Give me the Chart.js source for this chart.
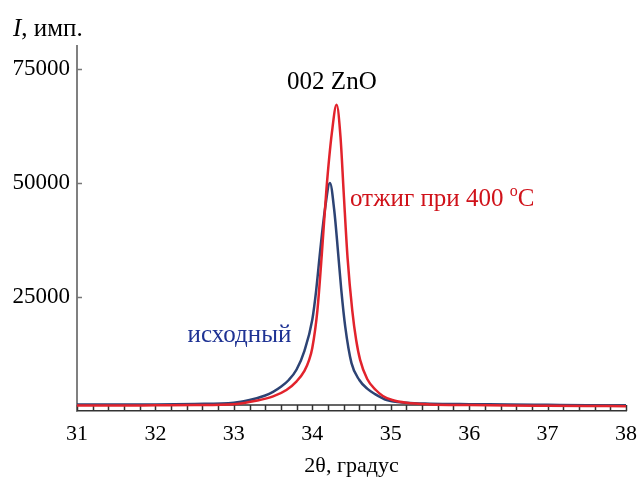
<!DOCTYPE html>
<html>
<head>
<meta charset="utf-8">
<script src="https://cdn.jsdelivr.net/npm/chart.js@4"></script>
<style>
	html, body { margin: 0; padding: 0; background: #fff; }
	#wrap { width: 639px; height: 479px; position: relative; }
</style>
</head>
<body>
<div id="wrap"><canvas id="xrd"></canvas></div>
<script>
// 2theta positions and intensities
var blueAngles = [31, 31.5, 32, 32.5, 33, 33.2, 33.4, 33.5, 33.6, 33.7, 33.8, 33.9, 34.0, 34.05, 34.1, 34.16, 34.225, 34.28, 34.33, 34.37, 34.42, 34.5, 34.6, 34.7, 34.8, 34.95, 35.2, 35.5, 36, 36.5, 37, 37.5, 38];
var blueCounts = [1400, 1400, 1450, 1550, 1800, 2400, 3400, 4200, 5300, 6800, 9100, 13200, 20000, 26500, 35000, 44000, 50000, 44000, 34500, 26500, 18500, 10500, 6800, 4900, 3700, 2400, 1800, 1600, 1500, 1450, 1350, 1250, 1200];

var redAngles = [31, 31.5, 32, 32.5, 33, 33.3, 33.5, 33.67, 33.8, 33.9, 33.96, 34.0, 34.065, 34.12, 34.18, 34.25, 34.31, 34.36, 34.4, 34.45, 34.51, 34.56, 34.61, 34.7, 34.81, 34.9, 35.02, 35.2, 35.5, 36, 36.5, 37, 37.5, 38];
var redCounts = [1200, 1200, 1250, 1300, 1500, 2300, 3200, 4600, 6500, 8800, 11200, 13800, 22000, 34000, 48500, 61000, 67100, 60000, 48000, 33500, 22000, 15500, 11200, 7000, 4600, 3300, 2400, 1800, 1450, 1300, 1200, 1150, 1100, 1050];

var yTicks = [25000, 50000, 75000];
var xTicks = [31, 32, 33, 34, 35, 36, 37, 38];

var serif = '"Liberation Serif", "Times New Roman", serif';

function toPoints(xs, ys) {
	var pts = [];
	for (var i = 0; i < xs.length; i++) {
		pts.push({x: xs[i], y: ys[i]});
	}
	return pts;
}

// the double line with small ticks along the bottom, the short y ticks and the labels
var decor = {
	id: 'decor',
	beforeDatasetsDraw: function(chart) {
		var ctx = chart.ctx;
		var x = chart.scales.x;
		var y = chart.scales.y;
		var bottom = y.getPixelForValue(0);
		var top = bottom - 6;
		ctx.save();
		ctx.strokeStyle = '#333';
		ctx.lineWidth = 1.5;
		ctx.beginPath();
		ctx.moveTo(x.left, top);
		ctx.lineTo(x.right, top);
		for (var v = 31; v <= 38.001; v += 0.2) {
			var px = Math.round(x.getPixelForValue(v)) + 0.5;
			ctx.moveTo(px, top);
			ctx.lineTo(px, bottom);
		}
		ctx.stroke();
		ctx.strokeStyle = '#777';
		ctx.lineWidth = 1.5;
		ctx.beginPath();
		for (var i = 0; i < yTicks.length; i++) {
			var py = Math.round(y.getPixelForValue(yTicks[i])) + 0.5;
			ctx.moveTo(x.left, py);
			ctx.lineTo(x.left + 5, py);
		}
		ctx.stroke();
		ctx.restore();
	},
	afterDraw: function(chart) {
		var ctx = chart.ctx;
		var x = chart.scales.x;
		var y = chart.scales.y;
		ctx.save();
		ctx.textBaseline = 'alphabetic';
		ctx.fillStyle = '#000';

		// axis name
		ctx.font = 'italic 25px ' + serif;
		ctx.fillText('I', 13, 36);
		var w = ctx.measureText('I').width;
		ctx.font = '25px ' + serif;
		ctx.fillText(', имп.', 13 + w, 36);

		// peak name
		ctx.textAlign = 'center';
		ctx.fillText('002 ZnO', x.getPixelForValue(34.25), y.getPixelForValue(72600) + 9);

		// annealed curve label
		ctx.textAlign = 'left';
		ctx.fillStyle = '#d0121a';
		var lx = x.getPixelForValue(34.48);
		var ly = y.getPixelForValue(46800) + 9;
		var part = 'отжиг при 400 ';
		ctx.fillText(part, lx, ly);
		lx += ctx.measureText(part).width;
		ctx.font = '16px ' + serif;
		ctx.fillText('o', lx, ly - 10);
		lx += ctx.measureText('o').width;
		ctx.font = '25px ' + serif;
		ctx.fillText('C', lx, ly);

		// initial curve label
		ctx.fillStyle = '#1f3394';
		ctx.fillText('исходный', x.getPixelForValue(32.41), y.getPixelForValue(17200) + 9);
		ctx.restore();
	}
};

var config = {
	type: 'line',
	data: {
		datasets: [
			{
				label: 'отжиг при 400 °C',
				data: toPoints(redAngles, redCounts),
				borderColor: '#e2232c',
				borderWidth: 2.5,
				pointRadius: 0,
				cubicInterpolationMode: 'monotone',
				fill: false
			},
			{
				label: 'исходный',
				data: toPoints(blueAngles, blueCounts),
				borderColor: '#2d4374',
				borderWidth: 2.5,
				pointRadius: 0,
				cubicInterpolationMode: 'monotone',
				fill: false
			}
		]
	},
	options: {
		responsive: true,
		maintainAspectRatio: false,
		animation: false,
		layout: {
			padding: {top: 46, right: 13, left: 0, bottom: 0}
		},
		plugins: {
			legend: {display: false},
			tooltip: {enabled: false}
		},
		scales: {
			x: {
				type: 'linear',
				min: 31,
				max: 38,
				afterBuildTicks: function(scale) {
					scale.ticks = xTicks.map(function(v) { return {value: v}; });
				},
				ticks: {
					color: '#000',
					font: {family: serif, size: 22},
					padding: 10,
					maxRotation: 0,
					autoSkip: false,
					callback: function(v) { return String(v); }
				},
				grid: {display: false, drawTicks: false},
				border: {display: true, color: '#333', width: 1.5},
				title: {
					display: true,
					text: '2θ, градус',
					color: '#000',
					font: {family: serif, size: 22},
					padding: {top: 2, bottom: 0}
				},
				afterFit: function(scale) {
					scale.height = 68;
					scale.paddingLeft = 0;
					scale.paddingRight = 0;
				}
			},
			y: {
				min: 0,
				max: 80000,
				afterBuildTicks: function(scale) {
					scale.ticks = yTicks.map(function(v) { return {value: v}; });
				},
				ticks: {
					color: '#000',
					font: {family: serif, size: 23},
					padding: 7,
					callback: function(v) { return String(v); }
				},
				grid: {display: false, drawTicks: false},
				border: {display: true, color: '#808080', width: 2},
				afterFit: function(scale) {
					scale.width = 77;
					scale.paddingTop = 0;
					scale.paddingBottom = 0;
				}
			}
		}
	},
	plugins: [decor]
};

const xrdChart = new Chart(document.getElementById('xrd'), config);
</script>
</body>
</html>
